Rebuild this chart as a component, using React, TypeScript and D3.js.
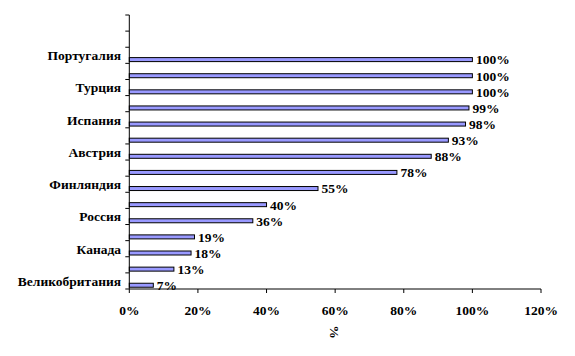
import React from "react";
import * as d3 from "d3";

// categories from bottom to top (17 slots; labels shown only on every other one)
const categories = [
  "Великобритания", "c2", "Канада", "c4", "Россия", "c6", "Финляндия", "c8",
  "Австрия", "c10", "Испания", "c12", "Турция", "c14", "Португалия", "c16", "c17",
];
const shownLabels = ["Великобритания", "Канада", "Россия", "Финляндия", "Австрия", "Испания", "Турция", "Португалия"];
const values: (number | null)[] = [7, 13, 18, 19, 36, 40, 55, 78, 88, 93, 98, 99, 100, 100, 100, null, null];
const xTicks = [0, 20, 40, 60, 80, 100, 120];
const xTitle = "%";

export default function App() {
  const W = 575, H = 356;
  const left = 129.3, right = 541, top = 15, bottom = 289;
  const x = d3.scaleLinear().domain([0, 120]).range([left, right]);
  const y = d3.scaleBand<string>().domain(categories).range([bottom, top]).padding(0);
  const step = y.step();
  const fs = 13.5;
  const ts: React.CSSProperties = { fontFamily: "Liberation Serif", fontWeight: "bold", fontSize: fs };
  const barH = 4;
  const barOff = 4.3;

  const boundaries = d3.range(categories.length + 1).map((i) => bottom - i * step);

  return (
    <svg width={W} height={H} style={{ position: "absolute", left: 0, top: 0, background: "#fff" }}>
      {categories.map((c, i) => {
        const v = values[i];
        if (v == null) return null;
        const cy = (y(c) as number) + step / 2 + barOff;
        return (
          <g key={c}>
            <rect x={x(0)} y={cy - barH / 2} width={x(v) - x(0)} height={barH}
              fill="#9999FF" stroke="#000" strokeWidth={1} />
            <text x={x(v) + 3.5} y={cy} dy="0.36em" style={ts} fill="#000">
              {v + "%"}
            </text>
          </g>
        );
      })}
      <line x1={left} x2={left} y1={top} y2={bottom} stroke="#000" strokeWidth={1} />
      {boundaries.map((b, i) => (
        <line key={i} x1={left - 4} x2={left} y1={b} y2={b} stroke="#000" strokeWidth={1} />
      ))}
      {categories.map((c) =>
        shownLabels.includes(c) ? (
          <text key={c} x={121} y={(y(c) as number) + step / 2} dy="0.36em" textAnchor="end"
            style={ts} fill="#000">{c}</text>
        ) : null
      )}
      <line x1={left} x2={right} y1={bottom} y2={bottom} stroke="#000" strokeWidth={1} />
      {xTicks.map((t) => (
        <g key={t}>
          <line x1={x(t)} x2={x(t)} y1={bottom} y2={bottom + 4} stroke="#000" strokeWidth={1} />
          <text x={x(t)} y={310} dy="0.36em" textAnchor="middle" style={ts} fill="#000">{t + "%"}</text>
        </g>
      ))}
      <text transform={`translate(${x(60)},332) rotate(90)`} textAnchor="middle" dy="0.36em"
        style={ts} fill="#000">{xTitle}</text>
    </svg>
  );
}
